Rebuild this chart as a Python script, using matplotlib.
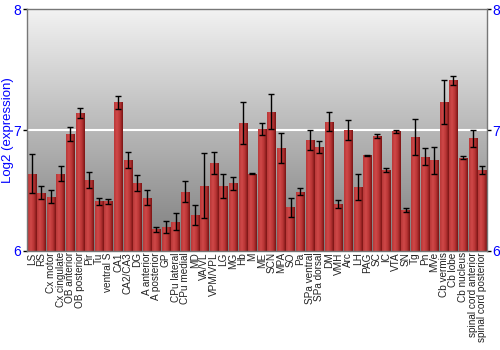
import numpy as np
import matplotlib
matplotlib.use("Agg")
import matplotlib.pyplot as plt
from matplotlib.colors import LinearSegmentedColormap

regions = ["LS", "RS", "Cx motor", "Cx cingulate", "OB anterior", "OB posterior", "Pir", "Tu",
           "ventral S", "CA1", "CA2/CA3", "DG", "A anterior", "A posterior", "GP", "CPu lateral",
           "CPu medial", "MD", "VA/VL", "VPM/VPL", "LG", "MG", "Hb", "M", "ME", "SCN", "MPA",
           "SO", "Pa", "SPa ventral", "SPa dorsal", "DM", "VMH", "Arc", "LH", "PAG", "SC", "IC",
           "VTA", "SN", "Tg", "Pn", "MVe", "Cb vermis", "Cb lobe", "Cb nucleus",
           "spinal cord anterior", "spinal cord posterior"]
expression = [6.64, 6.48, 6.45, 6.64, 6.97, 7.14, 6.59, 6.41,
              6.41, 7.23, 6.75, 6.56, 6.44, 6.18, 6.20, 6.24,
              6.49, 6.30, 6.54, 6.73, 6.54, 6.56, 7.06, 6.64, 7.01, 7.15, 6.85,
              6.36, 6.49, 6.92, 6.86, 7.07, 6.39, 7.00, 6.53, 6.79, 6.95, 6.67,
              6.99, 6.34, 6.94, 6.78, 6.75, 7.23, 7.41, 6.77,
              6.93, 6.67]
error = [0.163, 0.053, 0.050, 0.065, 0.057, 0.043, 0.066, 0.030,
         0.020, 0.055, 0.066, 0.065, 0.060, 0.020, 0.050, 0.070,
         0.086, 0.084, 0.268, 0.090, 0.100, 0.054, 0.174, 0.005, 0.050, 0.145, 0.124,
         0.076, 0.028, 0.082, 0.048, 0.080, 0.035, 0.080, 0.110, 0.005, 0.020, 0.018,
         0.014, 0.017, 0.148, 0.072, 0.110, 0.182, 0.035, 0.012,
         0.070, 0.030]
yticks = [6, 7, 8]

fig = plt.figure(figsize=(5, 3.5), dpi=100)
ax = fig.add_axes([0.054, 0.283, 0.920, 0.691])

# background gradient
grad = np.linspace(0, 1, 256).reshape(-1, 1)
bg_cmap = LinearSegmentedColormap.from_list("bg", ["#f2f2f2", "#7d7d7d"])
ax.imshow(grad, aspect="auto", cmap=bg_cmap, extent=[0, 1, 0, 1],
          transform=ax.transAxes, zorder=0, origin="upper")

ax.axhline(7, color="white", lw=1.5, zorder=1)

x = np.arange(len(regions))
bars = ax.bar(x, expression, width=0.86, color="#b03030", zorder=2, edgecolor="none")

bar_cmap = LinearSegmentedColormap.from_list("bar", ["#b83838", "#d04848", "#b83434", "#7a1414"])
hgrad = np.linspace(0, 1, 64).reshape(1, -1)
for b in bars:
    x0 = b.get_x()
    w = b.get_width()
    im = ax.imshow(hgrad, aspect="auto", cmap=bar_cmap, extent=[x0, x0 + w, 6, b.get_height()],
                   zorder=2.5, origin="lower")
    im.set_clip_path(b)

ax.errorbar(x, expression, yerr=error, fmt="none", ecolor="black", elinewidth=1,
            capsize=2, capthick=1, zorder=3)

ax.set_xlim(-0.5, len(regions) - 0.5)
ax.set_ylim(6, 8)
ax.set_yticks(yticks)
ax.set_yticklabels([str(t) for t in yticks])
ax.set_xticks(x)
ax.set_xticklabels(regions, rotation=90, fontsize=7.2, family="Liberation Sans", color="#222222")
ax.tick_params(axis="x", length=0, pad=1)
ax.tick_params(axis="y", labelcolor="blue", labelsize=10, length=3, width=1,
               right=True, labelright=True, left=True, pad=1)
for lab in ax.get_yticklabels():
    lab.set_family("Liberation Sans")
ax.set_ylabel("Log2 (expression)", color="blue", fontsize=9.5, family="Liberation Sans")
ax.yaxis.set_label_coords(-0.028, 0.5)
for s in ax.spines.values():
    s.set_color("#777777")
    s.set_linewidth(1)

fig.savefig("out.png", dpi=100)
